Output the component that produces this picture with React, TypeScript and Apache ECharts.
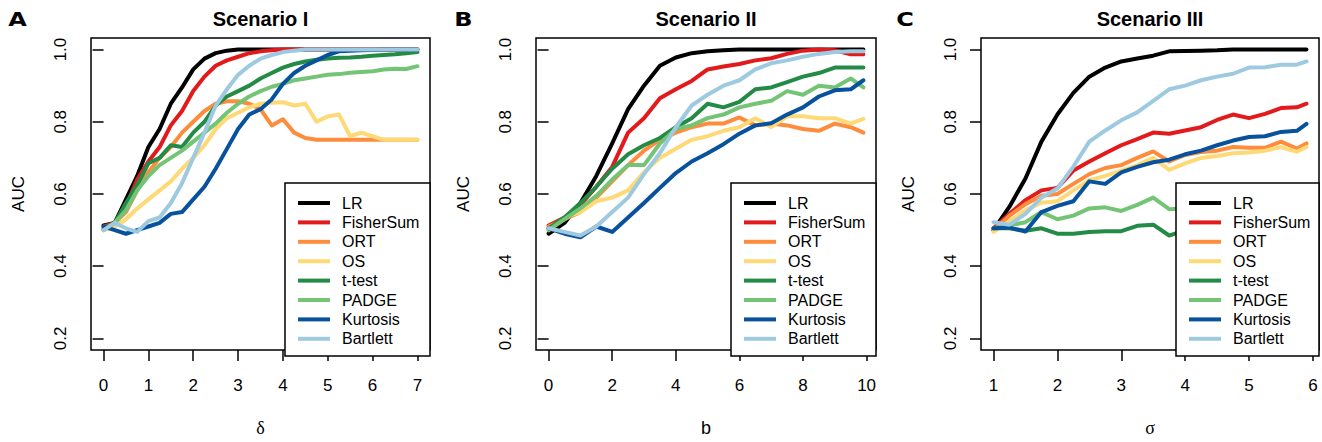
import React, { useEffect, useRef } from "react";
import * as echarts from "echarts";

const seriesNames = ["LR", "FisherSum", "ORT", "OS", "t-test", "PADGE", "Kurtosis", "Bartlett"];
const seriesColors = ["#000000", "#E31A1C", "#FD8D3C", "#FED976", "#238B45", "#74C476", "#08519C", "#9ECAE1"];

const panelTitles = ["Scenario I", "Scenario II", "Scenario III"];
const panelLetters = ["A", "B", "C"];
const xNames = ["δ", "b", "σ"];
const yTicks = [0.2, 0.4, 0.6, 0.8, 1.0];
const xTicksA = [0, 1, 2, 3, 4, 5, 6, 7];
const xTicksB = [0, 2, 4, 6, 8, 10];
const xTicksC = [1, 2, 3, 4, 5, 6];

// Panel A (delta)
const xA = [0, 0.25, 0.5, 0.75, 1, 1.25, 1.5, 1.75, 2, 2.25, 2.5, 2.75, 3, 3.25, 3.5, 3.75, 4, 4.25, 4.5, 4.75, 5, 5.25, 5.5, 5.75, 6, 6.25, 6.5, 6.75, 7];
const aLR = [0.513, 0.52, 0.585, 0.65, 0.73, 0.78, 0.85, 0.895, 0.945, 0.975, 0.99, 0.997, 1, 1, 1, 1, 1, 1, 1, 1, 1, 1, 1, 1, 1, 1, 1, 1, 1];
const aFisher = [0.51, 0.52, 0.565, 0.64, 0.69, 0.73, 0.79, 0.83, 0.885, 0.925, 0.955, 0.97, 0.98, 0.99, 0.995, 0.998, 1, 1, 1, 1, 1, 1, 1, 1, 1, 1, 1, 1, 1];
const aORT = [0.5, 0.52, 0.55, 0.61, 0.66, 0.7, 0.73, 0.77, 0.8, 0.83, 0.85, 0.857, 0.857, 0.85, 0.835, 0.79, 0.807, 0.77, 0.755, 0.75, 0.75, 0.75, 0.75, 0.75, 0.75, 0.75, 0.75, 0.75, 0.75];
const aOS = [0.5, 0.51, 0.53, 0.56, 0.585, 0.61, 0.635, 0.67, 0.7, 0.735, 0.78, 0.81, 0.825, 0.84, 0.85, 0.853, 0.854, 0.845, 0.85, 0.8, 0.815, 0.82, 0.76, 0.77, 0.76, 0.75, 0.75, 0.75, 0.75];
const aTtest = [0.505, 0.52, 0.575, 0.625, 0.685, 0.7, 0.735, 0.73, 0.77, 0.8, 0.845, 0.87, 0.885, 0.9, 0.92, 0.935, 0.95, 0.96, 0.967, 0.972, 0.975, 0.977, 0.978, 0.98, 0.983, 0.985, 0.987, 0.99, 0.993];
const aPADGE = [0.5, 0.52, 0.555, 0.61, 0.65, 0.68, 0.7, 0.72, 0.745, 0.77, 0.795, 0.825, 0.85, 0.87, 0.885, 0.897, 0.905, 0.915, 0.92, 0.925, 0.93, 0.932, 0.936, 0.938, 0.94, 0.945, 0.947, 0.946, 0.954];
const aKurt = [0.51, 0.5, 0.49, 0.5, 0.51, 0.52, 0.545, 0.55, 0.585, 0.62, 0.67, 0.725, 0.78, 0.82, 0.835, 0.862, 0.905, 0.935, 0.955, 0.97, 0.985, 0.995, 0.997, 0.998, 0.999, 1, 1, 1, 1];
const aBart = [0.5, 0.52, 0.505, 0.495, 0.525, 0.535, 0.575, 0.63, 0.7, 0.77, 0.845, 0.89, 0.93, 0.955, 0.975, 0.985, 0.993, 0.997, 1, 1, 1, 1, 1, 1, 1, 1, 1, 1, 1];

// Panel B (b)
const xB = [0, 0.5, 1, 1.5, 2, 2.5, 3, 3.5, 4, 4.5, 5, 5.5, 6, 6.5, 7, 7.5, 8, 8.5, 9, 9.5, 9.9];
const bLR = [0.49, 0.52, 0.575, 0.65, 0.74, 0.835, 0.9, 0.955, 0.978, 0.99, 0.995, 0.998, 1, 1, 1, 1, 1, 1, 1, 1, 1];
const bFisher = [0.513, 0.535, 0.57, 0.62, 0.675, 0.77, 0.81, 0.865, 0.89, 0.913, 0.945, 0.953, 0.96, 0.97, 0.976, 0.988, 0.997, 1, 0.998, 0.987, 0.987];
const bORT = [0.51, 0.53, 0.55, 0.59, 0.635, 0.68, 0.72, 0.75, 0.77, 0.785, 0.795, 0.795, 0.812, 0.79, 0.795, 0.79, 0.78, 0.775, 0.795, 0.785, 0.77];
const bOS = [0.5, 0.535, 0.55, 0.58, 0.59, 0.61, 0.66, 0.7, 0.725, 0.75, 0.76, 0.775, 0.785, 0.81, 0.785, 0.815, 0.815, 0.81, 0.81, 0.795, 0.808];
const bTtest = [0.505, 0.535, 0.575, 0.62, 0.67, 0.71, 0.735, 0.755, 0.785, 0.81, 0.85, 0.84, 0.855, 0.89, 0.895, 0.91, 0.925, 0.935, 0.95, 0.95, 0.95];
const bPADGE = [0.5, 0.53, 0.56, 0.595, 0.64, 0.68, 0.68, 0.74, 0.78, 0.79, 0.81, 0.82, 0.84, 0.85, 0.858, 0.885, 0.875, 0.9, 0.895, 0.92, 0.895];
const bKurt = [0.505, 0.49, 0.48, 0.51, 0.495, 0.535, 0.575, 0.617, 0.658, 0.69, 0.713, 0.738, 0.767, 0.79, 0.796, 0.82, 0.84, 0.87, 0.887, 0.89, 0.915];
const bBart = [0.505, 0.495, 0.485, 0.51, 0.55, 0.59, 0.655, 0.713, 0.785, 0.845, 0.875, 0.9, 0.915, 0.945, 0.962, 0.97, 0.98, 0.988, 0.993, 0.995, 0.995];

// Panel C (sigma)
const xC = [1, 1.25, 1.5, 1.75, 2, 2.25, 2.5, 2.75, 3, 3.25, 3.5, 3.75, 4, 4.25, 4.5, 4.75, 5, 5.25, 5.5, 5.75, 5.9];
const cLR = [0.5, 0.565, 0.643, 0.745, 0.82, 0.88, 0.925, 0.95, 0.967, 0.975, 0.983, 0.995, 0.996, 0.997, 0.998, 1, 1, 1, 1, 1, 1];
const cFisher = [0.505, 0.545, 0.583, 0.61, 0.617, 0.665, 0.69, 0.713, 0.735, 0.752, 0.77, 0.767, 0.776, 0.785, 0.805, 0.82, 0.81, 0.822, 0.838, 0.84, 0.85];
const cORT = [0.5, 0.54, 0.572, 0.595, 0.6, 0.628, 0.655, 0.672, 0.68, 0.7, 0.718, 0.69, 0.708, 0.716, 0.72, 0.73, 0.728, 0.728, 0.745, 0.726, 0.74];
const cOS = [0.495, 0.525, 0.555, 0.576, 0.58, 0.61, 0.638, 0.65, 0.665, 0.68, 0.7, 0.667, 0.685, 0.7, 0.705, 0.713, 0.715, 0.72, 0.73, 0.717, 0.73];
const cTtest = [0.505, 0.505, 0.498, 0.505, 0.49, 0.49, 0.495, 0.497, 0.497, 0.512, 0.515, 0.485, 0.5];
const cPADGE = [0.505, 0.513, 0.522, 0.55, 0.53, 0.54, 0.56, 0.563, 0.553, 0.57, 0.59, 0.558, 0.56];
const cKurt = [0.505, 0.507, 0.496, 0.55, 0.567, 0.58, 0.635, 0.628, 0.66, 0.675, 0.688, 0.695, 0.71, 0.72, 0.735, 0.748, 0.758, 0.76, 0.772, 0.775, 0.794];
const cBart = [0.522, 0.515, 0.545, 0.59, 0.615, 0.676, 0.745, 0.776, 0.804, 0.826, 0.858, 0.89, 0.9, 0.915, 0.925, 0.933, 0.95, 0.951, 0.958, 0.958, 0.967];

const SANS = '"Liberation Sans", Arial, Helvetica, sans-serif';
const SERIF = '"Liberation Serif", "Times New Roman", serif';

export default function App() {
  const ref = useRef<HTMLDivElement>(null);

  useEffect(() => {
    if (!ref.current) return;
    const chart = echarts.init(ref.current, undefined, { renderer: "svg" });

    const grids = [
      { left: 91, top: 38, width: 339, height: 318 },
      { left: 536, top: 38, width: 340, height: 318 },
      { left: 981, top: 38, width: 338, height: 318 },
    ];
    const xRanges = [
      [-0.28, 7.28],
      [-0.396, 10.296],
      [0.804, 6.096],
    ];
    const xTicks = [xTicksA, xTicksB, xTicksC];
    const xs = [xA, xB, xC];
    const panels = [
      [aLR, aFisher, aORT, aOS, aTtest, aPADGE, aKurt, aBart],
      [bLR, bFisher, bORT, bOS, bTtest, bPADGE, bKurt, bBart],
      [cLR, cFisher, cORT, cOS, cTtest, cPADGE, cKurt, cBart],
    ];
    const legendLefts = [285, 731, 1176];

    const series: any[] = [];
    panels.forEach((arrs, p) => {
      arrs.forEach((arr, k) => {
        series.push({
          type: "line",
          name: seriesNames[k],
          xAxisIndex: p,
          yAxisIndex: p,
          data: arr.map((y, i) => [xs[p][i], y]),
          symbol: "none",
          showSymbol: false,
          silent: true,
          z: 2,
          itemStyle: { color: seriesColors[k] },
          lineStyle: { color: seriesColors[k], width: 4, cap: "round", join: "round" },
        });
      });
    });

    const graphic: any[] = [];
    grids.forEach((g, p) => {
      graphic.push({
        type: "rect",
        z: 3,
        shape: { x: legendLefts[p], y: 183, width: g.left + g.width - legendLefts[p], height: 173 },
        style: { fill: "#ffffff", stroke: "#000000", lineWidth: 1.5 },
      });
      graphic.push({
        type: "text",
        z: 5,
        x: g.left + g.width / 2,
        y: 18.5,
        style: {
          text: panelTitles[p],
          fill: "#000",
          fontSize: 20,
          fontWeight: "bold",
          fontFamily: SANS,
          align: "center",
          verticalAlign: "middle",
          textAlign: "center",
          textVerticalAlign: "middle",
        },
      });
    });
    const letterX = [17.5, 463.5, 905];
    letterX.forEach((lx, p) => {
      graphic.push({
        type: "text",
        z: 5,
        x: lx,
        y: 19,
        scaleX: 1.2,
        style: {
          text: panelLetters[p],
          fill: "#000",
          fontSize: 20,
          fontWeight: 900,
          fontFamily: '"DejaVu Sans", sans-serif',
          align: "center",
          verticalAlign: "middle",
          textAlign: "center",
          textVerticalAlign: "middle",
        },
      });
    });

    const option: any = {
      animation: false,
      backgroundColor: "#ffffff",
      grid: grids.map((g) => ({
        ...g,
        show: true,
        borderColor: "#000",
        borderWidth: 1.5,
        backgroundColor: "transparent",
        containLabel: false,
      })),
      xAxis: grids.map((g, p) => ({
        gridIndex: p,
        type: "value",
        min: xRanges[p][0],
        max: xRanges[p][1],
        axisLine: { show: false },
        splitLine: { show: false },
        axisTick: {
          show: true,
          inside: false,
          length: 11,
          lineStyle: { color: "#000", width: 1.5 },
          customValues: xTicks[p],
        },
        axisLabel: {
          customValues: xTicks[p],
          margin: 27,
          fontSize: 17,
          color: "#000",
          fontFamily: SANS,
          formatter: (v: number) => String(Math.round(v)),
        },
        name: xNames[p],
        nameLocation: "middle",
        nameGap: 69,
        nameTextStyle: {
          fontSize: 18,
          color: "#000",
          fontFamily: p === 1 ? SANS : SERIF,
        },
      })),
      yAxis: grids.map((g, p) => ({
        gridIndex: p,
        type: "value",
        min: 0.168,
        max: 1.032,
        axisLine: { show: false },
        splitLine: { show: false },
        axisTick: {
          show: true,
          inside: false,
          length: 11,
          lineStyle: { color: "#000", width: 1.5 },
          customValues: yTicks,
        },
        axisLabel: {
          customValues: yTicks,
          rotate: 90,
          margin: 22,
          fontSize: 17,
          color: "#000",
          fontFamily: SANS,
          formatter: (v: number) => v.toFixed(1),
        },
        name: "AUC",
        nameLocation: "middle",
        nameGap: 64,
        nameTextStyle: { fontSize: 17, color: "#000", fontFamily: SANS },
      })),
      legend: legendLefts.map((l) => ({
        data: seriesNames,
        orient: "vertical",
        left: l + 13,
        top: 193.5,
        padding: 0,
        itemWidth: 32,
        itemHeight: 4,
        itemGap: 0.4,
        icon: "rect",
        selectedMode: false,
        z: 6,
        textStyle: {
          fontSize: 16,
          lineHeight: 19,
          color: "#000",
          fontFamily: SANS,
          padding: [0, 0, 0, 7],
        },
      })),
      graphic,
      series,
    };

    chart.setOption(option);
    return () => {
      chart.dispose();
    };
  }, []);

  return (
    <div
      ref={ref}
      style={{ position: "absolute", left: 0, top: 0, width: 1322, height: 442, background: "#fff" }}
    />
  );
}
